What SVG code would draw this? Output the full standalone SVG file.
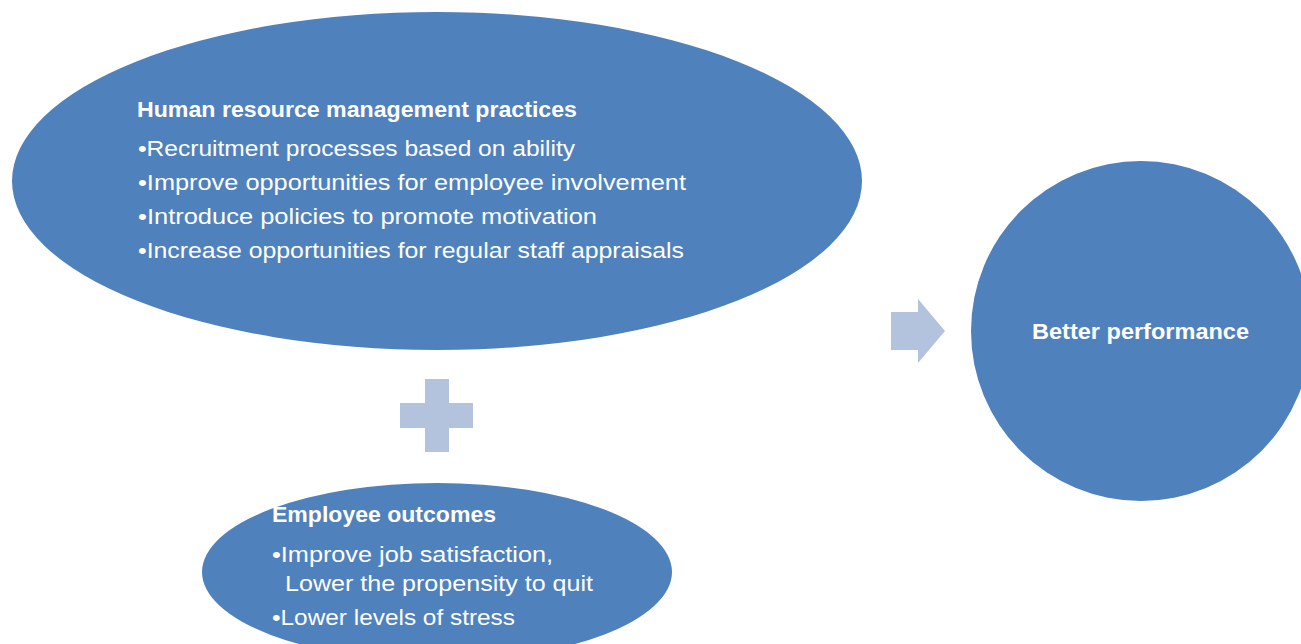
<svg xmlns="http://www.w3.org/2000/svg" width="1301" height="644" viewBox="0 0 1301 644">
<style>
.node{fill:#4F81BD;}
.sym{fill:#B3C3DE;}
.t{font-family:"Liberation Sans",Arial,sans-serif;fill:#FFFFFF;font-size:22px;}
.b{font-weight:bold;}
</style>
<rect width="1301" height="644" fill="#FFFFFF"/>
<g id="hrm">
<ellipse class="node" cx="437" cy="181" rx="425" ry="169"/>
<text class="t b" x="137" y="117" textLength="440" lengthAdjust="spacingAndGlyphs">Human resource management practices</text>
<text class="t" x="138" y="156" textLength="437" lengthAdjust="spacingAndGlyphs">•Recruitment processes based on ability</text>
<text class="t" x="138" y="190" textLength="548" lengthAdjust="spacingAndGlyphs">•Improve opportunities for employee involvement</text>
<text class="t" x="138" y="224" textLength="459" lengthAdjust="spacingAndGlyphs">•Introduce policies to promote motivation</text>
<text class="t" x="138" y="258" textLength="546" lengthAdjust="spacingAndGlyphs">•Increase opportunities for regular staff appraisals</text>
</g>
<g id="outcomes">
<ellipse class="node" cx="437" cy="572" rx="235" ry="89"/>
<text class="t b" x="272" y="522" textLength="224" lengthAdjust="spacingAndGlyphs">Employee outcomes</text>
<text class="t" x="272" y="562" textLength="281" lengthAdjust="spacingAndGlyphs">•Improve job satisfaction,</text>
<text class="t" x="285" y="591" textLength="308" lengthAdjust="spacingAndGlyphs">Lower the propensity to quit</text>
<text class="t" x="272" y="625" textLength="243" lengthAdjust="spacingAndGlyphs">•Lower levels of stress</text>
</g>
<g id="performance">
<circle class="node" cx="1141" cy="331" r="170"/>
<text class="t b" x="1032" y="339" textLength="217" lengthAdjust="spacingAndGlyphs">Better performance</text>
</g>
<g id="connectors">
<path id="plus" class="sym" d="M425 379 H449 V403 H473 V428 H449 V452 H425 V428 H400 V403 H425 Z"/>
<path id="arrow" class="sym" d="M891 312 H918 V299 L945 331 L918 363 V350 H891 Z"/>
</g>
</svg>
